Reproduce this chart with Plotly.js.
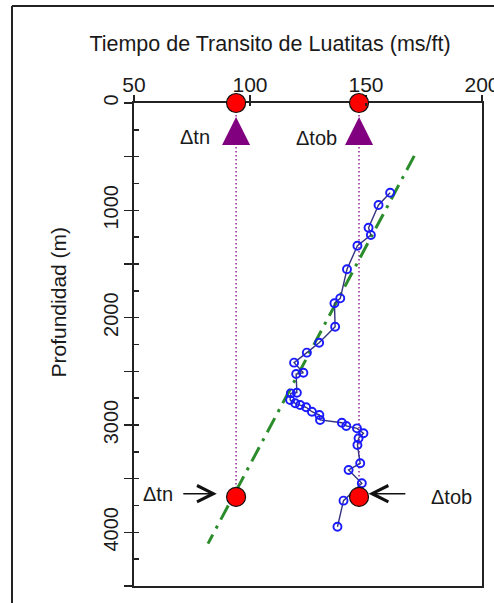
<!DOCTYPE html>
<html>
<head>
<meta charset="utf-8">
<script src="https://cdn.plot.ly/plotly-3.0.1.min.js"></script>
<style>html,body{margin:0;padding:0;background:#fff;}#chart{width:494px;height:603px;}</style>
</head>
<body>
<div id="chart"></div>
<script>
// Shale transit time (ms/ft) vs depth (m)
var transitTime = [160.4,155.4,151.1,152.1,146.3,141.8,138.9,136.4,136.7,129.8,124.5,119.0,123.0,119.9,120.2,117.6,117.3,119.5,121.6,124.2,126.7,129.9,130.2,139.6,141.5,146.1,148.9,146.8,146.3,147.5,142.5,148.2,140.3,137.7];
var depth = [836,950,1162,1230,1330,1549,1820,1866,2084,2233,2326,2419,2513,2525,2699,2705,2767,2798,2814,2835,2876,2907,2953,2979,3009,3031,3077,3124,3186,3357,3419,3543,3705,3948];

// Normal compaction trend line end points
var trendX = [170.8, 81.9];
var trendD = [493, 4105];

// Reference values: delta t normal (dtn) and observed (dtob)
var refX = [94, 147];
var refTopD = [0, 0];
var refBotD = [3670, 3670];
var triD = [130, 130];

// Axis ticks
var xTicks = [50, 100, 150, 200];
var yTicks = [0, 500, 1000, 1500, 2000, 2500, 3000, 3500, 4000, 4500];
var yTickText = ['0', '', '1000', '', '2000', '', '3000', '', '4000', ''];

var FONT = 'Liberation Sans, Arial, sans-serif';
var TXT = '#1a1a1a';

var traces = [];
// dotted purple verticals
for (var i = 0; i < refX.length; i++) {
  traces.push({
    x: [refX[i], refX[i]], y: [refTopD[i], refBotD[i]],
    mode: 'lines', line: {color: '#993399', width: 1.6, dash: '1.6px,2.4px'},
    hoverinfo: 'skip', showlegend: false
  });
}
// trend line
traces.push({
  x: trendX, y: trendD, mode: 'lines',
  line: {color: '#2a8c2a', width: 3, dash: '16px,7px,3px,7px'},
  showlegend: false
});
// observed data
traces.push({
  x: transitTime, y: depth, mode: 'lines+markers',
  line: {color: '#33337f', width: 1.4},
  marker: {symbol: 'circle-open', size: 8, color: '#1a1aff', line: {width: 1.9, color: '#1a1aff'}},
  showlegend: false
});
// triangles
traces.push({
  x: refX, y: triD, mode: 'markers',
  marker: {symbol: 'arrow-up', size: 28, color: '#800080', line: {width: 0}},
  cliponaxis: false, showlegend: false
});
// red circles top and bottom
traces.push({
  x: refX.concat(refX), y: refTopD.concat(refBotD), mode: 'markers',
  marker: {symbol: 'circle', size: 19, color: '#ff0000', line: {width: 1.2, color: '#111'}},
  cliponaxis: false, showlegend: false
});
// dummy for overlay axes
traces.push({x: [50], y: [0], xaxis: 'x2', yaxis: 'y2', mode: 'markers',
  marker: {opacity: 0}, hoverinfo: 'skip', showlegend: false});

var annFont = {family: FONT, size: 20, color: TXT};
var annotations = [
  {x: 76.3, y: 317, xref: 'x', yref: 'y', text: 'Δtn', showarrow: false, font: annFont},
  {x: 128.8, y: 326, xref: 'x', yref: 'y', text: 'Δtob', showarrow: false, font: annFont},
  {x: 60.2, y: 3640, xref: 'x', yref: 'y', text: 'Δtn', showarrow: false, font: annFont},
  {x: 186.9, y: 3670, xref: 'x', yref: 'y', text: 'Δtob', showarrow: false, font: annFont},
  {x: 85.7, y: 3640, ax: 70.6, ay: 3640, xref: 'x', yref: 'y', axref: 'x', ayref: 'y', text: '',
   showarrow: true, arrowhead: 5, arrowsize: 2, arrowwidth: 1.6, arrowcolor: '#111'},
  {x: 151.1, y: 3640, ax: 167.6, ay: 3640, xref: 'x', yref: 'y', axref: 'x', ayref: 'y', text: '',
   showarrow: true, arrowhead: 5, arrowsize: 2, arrowwidth: 1.6, arrowcolor: '#111'},
  {x: -0.2557, y: 0.588, xref: 'paper', yref: 'paper', text: 'Profundidad (m)', textangle: -90,
   showarrow: false, font: {family: FONT, size: 21, color: TXT}}
];

var layout = {
  width: 494, height: 603,
  margin: {l: 134, r: 12, t: 103, b: 17, pad: 0},
  paper_bgcolor: '#fff', plot_bgcolor: '#fff',
  showlegend: false,
  font: {family: FONT, size: 20, color: TXT},
  title: {text: 'Tiempo de Transito de Luatitas (ms/ft)', x: 0.5466, xref: 'container', xanchor: 'center',
          y: 0.9287, yref: 'container', yanchor: 'middle', font: {family: FONT, size: 21.5, color: TXT}},
  xaxis: {range: [50, 200], side: 'top', tickvals: xTicks, ticks: 'outside', ticklen: 6, tickwidth: 1.5,
          tickcolor: '#222', showline: true, mirror: true, linecolor: '#222', linewidth: 2,
          showgrid: false, zeroline: false, layer: 'below traces', fixedrange: true, ticklabelstandoff: -5,
          ticklabeloverflow: 'allow', automargin: false,
          tickfont: {family: FONT, size: 21, color: TXT}},
  yaxis: {range: [4500, 0], tickvals: yTicks, ticktext: yTickText, ticks: 'outside', ticklen: 8, tickwidth: 1.5,
          tickcolor: '#222', tickangle: -90, showline: true, mirror: true, linecolor: '#222', linewidth: 2,
          showgrid: false, zeroline: false, layer: 'below traces', fixedrange: true, ticklabelstandoff: -2,
          ticklabeloverflow: 'allow', automargin: false,
          tickfont: {family: FONT, size: 20, color: TXT}},
  xaxis2: {range: [50, 200], overlaying: 'x', side: 'top', anchor: 'y2', tickvals: xTicks, ticks: 'inside',
           ticklen: 3, tickwidth: 1.5, tickcolor: '#222', showticklabels: false, showline: false,
           showgrid: false, zeroline: false, fixedrange: true},
  yaxis2: {range: [4500, 0], overlaying: 'y', side: 'left', anchor: 'x2', dtick: 250, tick0: 0, ticks: 'inside',
           ticklen: 5, tickwidth: 1.5, tickcolor: '#222', showticklabels: false, showline: false,
           showgrid: false, zeroline: false, fixedrange: true},
  annotations: annotations,
  shapes: [
    {type: 'line', xref: 'paper', yref: 'paper', x0: -0.3506, x1: -0.3506, y0: -0.2, y1: 1.2008,
     line: {color: '#222', width: 2}, layer: 'below'},
    {type: 'line', xref: 'paper', yref: 'paper', x0: -0.3506, x1: 1.3, y0: 1.2008, y1: 1.2008,
     line: {color: '#222', width: 2}, layer: 'below'}
  ]
};

Plotly.newPlot('chart', traces, layout, {displayModeBar: false, staticPlot: true});
</script>
</body>
</html>
